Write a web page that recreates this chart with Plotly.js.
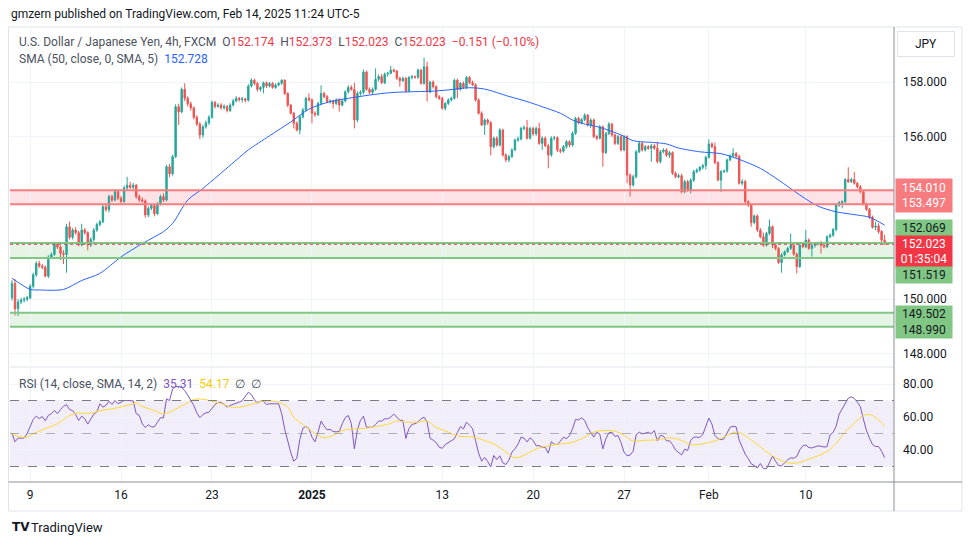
<!DOCTYPE html>
<html>
<head>
<meta charset="utf-8">
<script src="https://cdn.plot.ly/plotly-3.0.1.min.js"></script>
<style>
  html, body { margin: 0; padding: 0; background: #fff; }
  #chart { width: 970px; height: 545px; }
</style>
</head>
<body>
<div id="chart"></div>
<script>
// USD/JPY 4h bars, Dec 6 2024 .. Feb 14 2025
const barOpen = [
  150.05,150.58,149.65,149.90,149.97,150.00,150.05,150.48,150.90,151.32,
  151.22,151.18,150.85,151.55,151.65,152.06,151.92,151.69,151.65,152.67,
  152.28,152.55,152.45,152.00,152.55,152.45,152.00,152.20,152.55,152.75,
  152.85,153.41,153.30,153.78,153.65,153.96,153.72,153.60,154.10,154.20,
  154.12,154.20,153.78,153.66,153.62,153.10,153.35,153.45,153.15,153.50,
  153.78,153.65,154.88,154.62,155.25,157.09,156.90,157.73,157.40,157.20,
  157.05,156.70,156.45,156.05,156.35,156.50,156.70,157.25,157.10,157.15,
  157.05,157.10,156.95,157.15,157.30,157.40,157.35,157.38,157.33,157.85,
  158.07,157.95,157.73,157.80,157.97,157.85,157.95,157.80,157.89,157.95,
  158.07,157.58,157.15,156.85,156.48,156.23,156.72,156.97,157.40,157.34,
  156.85,156.80,157.21,157.58,157.46,157.28,157.30,157.21,157.34,157.15,
  157.30,157.64,157.80,157.73,156.60,157.58,157.62,158.37,157.73,157.62,
  157.73,158.10,158.20,157.97,158.29,158.32,158.44,158.40,158.14,158.05,
  158.14,157.67,158.17,158.20,158.18,158.44,157.95,158.56,157.64,158.00,
  157.83,157.46,157.40,157.03,157.21,157.34,157.40,158.07,157.73,157.95,
  157.80,158.17,157.98,157.90,157.34,156.85,156.42,156.60,156.50,155.62,
  155.93,155.68,156.23,155.31,155.13,155.25,155.50,155.86,155.90,156.29,
  156.32,155.93,156.29,156.09,156.29,155.74,155.93,155.65,155.31,155.93,
  155.95,155.50,155.45,155.62,155.80,155.68,156.11,156.66,156.50,156.62,
  156.78,156.42,156.60,155.99,155.93,156.35,155.40,156.10,156.45,156.05,
  155.74,155.99,155.50,155.99,154.57,154.21,154.51,155.43,155.74,155.50,
  155.62,155.56,155.65,155.56,155.07,155.43,155.50,155.30,155.40,154.64,
  154.51,154.55,153.96,154.33,154.02,154.39,154.70,154.76,154.86,154.92,
  155.23,155.72,155.62,155.03,154.39,154.70,154.72,155.13,155.28,155.37,
  155.26,154.27,154.33,153.59,153.47,152.82,153.07,152.55,152.30,151.99,
  152.42,152.67,152.00,151.87,151.35,151.63,151.75,151.87,151.99,151.66,
  151.20,151.99,151.93,152.18,151.87,151.99,152.03,152.06,151.99,151.93,
  152.30,152.36,152.57,153.47,153.56,153.59,154.41,154.33,154.41,154.27,
  154.14,153.96,153.51,153.31,153.02,152.65,152.70,152.49,152.174
];
const barHigh = [
  150.70,150.75,150.00,150.05,150.08,150.12,150.55,150.98,151.40,151.42,
  151.30,151.25,151.62,151.72,152.12,152.10,151.98,151.80,152.78,152.86,
  152.62,152.65,152.52,152.78,152.62,152.50,152.28,152.62,152.82,152.92,
  153.48,153.52,153.85,153.85,154.05,154.02,153.80,154.18,154.51,154.32,
  154.28,154.25,153.85,153.75,153.68,153.42,153.52,153.50,153.58,153.85,
  153.90,154.95,154.98,155.32,157.18,157.20,157.80,157.95,157.48,157.28,
  157.10,156.78,156.52,156.42,156.58,156.78,157.32,157.30,157.22,157.22,
  157.18,157.15,157.22,157.38,157.48,157.45,157.45,157.42,157.92,158.14,
  158.12,158.00,157.85,158.02,158.02,158.00,158.00,157.95,158.00,158.10,
  158.10,157.62,157.20,156.90,156.55,156.78,157.05,157.46,157.58,157.40,
  156.92,157.28,157.88,157.64,157.52,157.36,157.35,157.40,157.40,157.36,
  157.70,157.88,157.88,157.97,157.66,157.70,158.46,158.42,157.80,157.80,
  158.50,158.28,158.30,158.35,158.38,158.60,158.50,158.45,158.20,158.20,
  158.18,158.22,158.26,158.24,158.50,158.48,158.90,158.75,158.05,158.06,
  157.88,157.52,157.45,157.26,157.40,157.46,158.12,158.12,158.00,158.02,
  158.22,158.22,158.05,157.95,157.40,156.92,156.66,156.66,156.56,155.99,
  156.00,156.30,156.28,155.38,155.32,155.56,155.92,155.99,156.35,156.40,
  156.60,156.35,156.35,156.36,156.50,156.00,156.00,155.72,156.00,156.02,
  156.00,155.56,155.68,155.86,155.86,156.18,156.72,156.72,156.68,156.85,
  156.82,156.66,156.66,156.05,156.42,156.40,156.16,156.52,156.50,156.10,
  156.05,156.05,156.05,156.04,154.64,154.58,155.50,155.80,155.80,155.68,
  155.68,155.72,155.72,155.80,155.50,155.56,155.56,155.46,155.45,154.70,
  154.62,154.62,154.40,154.40,154.45,154.76,154.82,154.90,154.98,155.28,
  155.89,155.78,155.77,155.08,154.76,154.78,155.18,155.34,155.56,155.42,
  155.32,154.42,154.40,153.64,153.52,153.12,153.12,152.62,152.45,152.48,
  152.94,152.72,152.06,151.92,151.70,151.80,151.92,152.42,152.04,151.72,
  152.05,152.04,152.55,152.24,152.05,152.08,152.12,152.15,152.04,152.35,
  152.42,152.62,153.52,153.62,153.64,154.46,154.86,154.48,154.70,154.32,
  154.20,154.02,153.56,153.36,153.08,152.85,152.80,152.55,152.373
];
const barLow = [
  149.95,149.40,149.38,149.82,149.88,149.92,150.00,150.40,150.82,151.15,
  151.10,150.80,150.78,151.48,151.60,151.85,151.45,151.30,150.98,152.20,
  152.20,152.38,151.95,151.95,152.38,151.80,151.92,152.12,152.48,152.68,
  152.80,153.22,153.20,153.58,153.60,153.65,153.50,153.55,154.02,154.05,
  154.05,153.70,153.58,153.55,153.00,153.02,153.28,153.05,153.10,153.45,
  153.58,153.60,154.50,154.55,155.20,156.42,156.85,157.30,157.10,156.95,
  156.62,156.38,155.90,155.95,156.28,156.42,156.65,157.02,157.05,156.98,
  156.98,156.88,156.90,157.10,157.25,157.28,157.25,157.25,157.28,157.80,
  157.88,157.65,157.65,157.58,157.78,157.80,157.75,157.75,157.84,157.90,
  157.52,157.08,156.80,156.29,156.18,156.07,156.65,156.92,157.28,156.48,
  156.72,156.75,157.15,157.40,157.22,157.20,157.03,157.15,156.91,157.10,
  157.25,157.58,157.68,156.29,156.52,157.50,157.55,157.68,157.55,157.55,
  157.68,158.02,157.92,157.92,158.20,158.28,158.35,158.08,157.83,158.00,
  157.60,157.62,158.10,158.12,158.12,157.90,157.90,157.28,157.58,157.76,
  157.40,157.34,156.98,156.95,157.15,157.28,157.35,157.40,157.68,157.75,
  157.75,157.92,157.85,157.28,156.80,156.38,156.05,156.42,155.30,155.55,
  155.62,155.62,155.25,155.05,155.05,155.20,155.45,155.80,155.85,156.22,
  155.88,155.88,156.02,156.02,155.68,155.50,155.60,154.82,155.25,155.85,
  155.42,155.38,155.40,155.55,155.60,155.62,156.05,156.44,156.44,156.55,
  156.36,156.30,155.94,155.86,155.88,154.88,155.35,156.05,155.98,155.68,
  155.68,155.44,155.45,154.27,153.78,154.15,154.45,155.38,155.44,155.44,
  155.50,155.06,155.50,155.00,155.00,155.38,155.24,155.20,154.58,154.45,
  154.45,153.90,153.90,153.96,153.90,154.32,154.64,154.70,154.78,154.78,
  155.18,155.56,154.98,154.34,153.96,154.65,154.66,155.08,155.22,155.20,
  154.22,154.20,153.54,153.40,152.67,152.76,152.48,152.24,151.93,151.94,
  152.36,151.88,151.80,151.30,150.98,151.58,151.70,151.82,151.60,150.95,
  151.15,151.88,151.88,151.82,151.57,151.90,151.98,151.68,151.88,151.88,
  152.25,152.30,152.50,153.40,153.35,153.54,154.28,154.28,154.22,154.08,
  153.90,153.46,153.25,152.96,152.60,152.55,152.42,152.12,152.023
];
const barClose = [
  150.58,149.65,149.90,149.97,150.00,150.05,150.48,150.90,151.32,151.22,
  151.18,150.85,151.55,151.65,152.06,151.92,151.69,151.65,152.67,152.28,
  152.55,152.45,152.00,152.55,152.45,152.00,152.20,152.55,152.75,152.85,
  153.41,153.30,153.78,153.65,153.96,153.72,153.60,154.10,154.20,154.12,
  154.20,153.78,153.66,153.62,153.10,153.35,153.45,153.15,153.50,153.78,
  153.65,154.88,154.62,155.25,157.09,156.90,157.73,157.40,157.20,157.05,
  156.70,156.45,156.05,156.35,156.50,156.70,157.25,157.10,157.15,157.05,
  157.10,156.95,157.15,157.30,157.40,157.35,157.38,157.33,157.85,158.07,
  157.95,157.73,157.80,157.97,157.85,157.95,157.80,157.89,157.95,158.07,
  157.58,157.15,156.85,156.48,156.23,156.72,156.97,157.40,157.34,156.85,
  156.80,157.21,157.58,157.46,157.28,157.30,157.21,157.34,157.15,157.30,
  157.64,157.80,157.73,156.60,157.58,157.62,158.37,157.73,157.62,157.73,
  158.10,158.20,157.97,158.29,158.32,158.44,158.40,158.14,158.05,158.14,
  157.67,158.17,158.20,158.18,158.44,157.95,158.56,157.64,158.00,157.83,
  157.46,157.40,157.03,157.21,157.34,157.40,158.07,157.73,157.95,157.80,
  158.17,157.98,157.90,157.34,156.85,156.42,156.60,156.50,155.62,155.93,
  155.68,156.23,155.31,155.13,155.25,155.50,155.86,155.90,156.29,156.32,
  155.93,156.29,156.09,156.29,155.74,155.93,155.65,155.31,155.93,155.95,
  155.50,155.45,155.62,155.80,155.68,156.11,156.66,156.50,156.62,156.78,
  156.42,156.60,155.99,155.93,156.35,155.40,156.10,156.45,156.05,155.74,
  155.99,155.50,155.99,154.57,154.21,154.51,155.43,155.74,155.50,155.62,
  155.56,155.65,155.56,155.07,155.43,155.50,155.30,155.40,154.64,154.51,
  154.55,153.96,154.33,154.02,154.39,154.70,154.76,154.86,154.92,155.23,
  155.72,155.62,155.03,154.39,154.70,154.72,155.13,155.28,155.37,155.26,
  154.27,154.33,153.59,153.47,152.82,153.07,152.55,152.30,151.99,152.42,
  152.67,152.00,151.87,151.35,151.63,151.75,151.87,151.99,151.66,151.20,
  151.99,151.93,152.18,151.87,151.99,152.03,152.06,151.99,151.93,152.30,
  152.36,152.57,153.47,153.56,153.59,154.41,154.33,154.41,154.27,154.14,
  153.96,153.51,153.31,153.02,152.65,152.70,152.49,152.174,152.023
];

// SMA(50) sampled at bar positions
const smaIdx = [0,3,6,9,17,23,29,36,43,50,53,58,63,68,75,78,85,92,98,105,111,118,125,131,138,
  144,151,156,164,170,175,181,185,188,194,201,205,212,216,220,227,234,240,247,253,260,266,272,279,283,288];
const smaVal = [150.77,150.55,150.36,150.34,150.36,150.69,150.95,151.56,152.05,152.49,152.79,153.65,
  154.08,154.55,155.22,155.50,156.02,156.53,157.00,157.28,157.40,157.52,157.61,157.64,157.66,157.71,
  157.79,157.74,157.47,157.28,157.09,156.85,156.60,156.48,156.33,156.05,155.84,155.77,155.72,155.57,
  155.43,155.36,155.15,154.82,154.39,153.84,153.43,153.22,153.10,153.02,152.73];

// RSI(14), one value per bar
const rsi = [
  50,45,47.2,47,47.2,50,54.4,58.5,60.5,59,
  60.3,57.7,61,62,64,62,64.5,66.5,67.5,64.5,
  63.9,61.5,57.9,60.5,59,55.7,58.7,61.8,63,68,
  66,67,69.5,67.6,70,68,69,70,70,70,
  69.8,62,61,55.9,53.6,55.3,54,54,56.5,59.5,
  59.5,71,70,77,78.5,78.5,77.9,76,73.2,70.5,
  67,62.5,59.6,61.5,62.5,62.9,65.4,67.5,69,68.8,
  67.6,66,67,67.6,68.4,69,70,72.5,75,73.6,
  70.5,68.4,69.6,69.6,67.6,68,67.8,68,68,62,
  52.6,45.4,38.5,33.2,35,46.4,53.2,54.3,53,47.8,
  45,50.6,57.5,54.6,52.2,52.5,51.2,51,51.2,55.9,
  59.7,60.9,56,40.7,52.2,58,60.5,53.8,53.8,53.8,
  55.5,57.5,57.5,58.9,58.9,60,61.8,60,58,58,
  47,53,55.5,55.9,57,58.9,59.9,57,47,46,
  44.5,41.7,41,43.3,44.5,45.5,46.8,50.6,54.2,52.8,
  56.9,55,53,45.6,38.1,33.2,35.5,33,29.8,36.7,
  34.2,36.5,32.2,31.2,33.8,38.7,40.7,43.5,47.8,47.2,
  44.9,47.4,45.8,42.5,42.7,41.7,41.5,38.1,45,43.5,
  43.3,45.4,47.8,46.8,48.8,52.8,58.5,58.2,59.5,57.9,
  53.6,50.6,47.8,50.8,49.6,40.7,46.8,50.4,50.8,48.2,
  48.8,44.5,38.7,36.5,36.9,39.3,49.2,50.8,49.8,50.2,
  50.8,49.8,51.8,45.5,48.8,48.5,45.5,45.6,43.3,40,
  38.3,37,40.5,39.7,45.8,47.8,47.8,47.6,49.4,54.2,
  59.3,55.7,48.8,46.8,46.2,46.8,50.4,53.8,54.4,54,
  46,41.7,37.5,34.8,31.6,30.6,29,31.8,28.8,28.6,
  32.6,36.3,33.2,30.6,30.4,32.4,34,35.3,35,36.1,
  40.1,42.5,43,41.5,41.2,41.9,42.5,42.3,41.8,42,
  49.2,50.6,54.4,61.7,64.9,67.4,71.4,72.2,71.2,69,
  66.2,58.7,51.8,47.2,43.3,42.1,42.1,39.3,35.31
];

// RSI-based SMA(14)
const rsiMaIdx = [0,3,5,7,10,15,19,22,26,29,33,38,41,43,47,50,53,57,60,63,66,70,72,75,79,82,86,88,91,93,
  96,98,101,103,106,109,113,117,120,124,127,130,134,137,140,144,147,152,156,160,163,166,170,173,177,181,185,
  189,192,195,199,202,205,208,213,217,221,224,228,233,236,239,241,245,248,251,254,257,260,263,266,269,272,
  275,278,281,283,285,287,288];
const rsiMaVal = [49.8,47.8,47.8,49.8,52.2,55.9,60.9,62.3,62.3,63.9,64.9,67.0,68.4,66.4,63.9,61.9,63.9,
  67.6,70.6,70.8,69.6,67.6,66.0,66.0,67.6,69.4,69.6,69.0,66.0,59.9,55.5,52.8,48.8,47.4,48.8,51.8,52.8,
  53.2,54.2,55.5,57.5,56.9,56.9,57.5,53.8,50.8,48.5,47.8,45.8,42.7,38.7,35.3,37.7,40.7,42.5,43.7,44.7,
  47.8,50.8,51.8,51.4,48.8,45.4,45.8,46.2,47.4,45.8,43.3,43.7,46.2,48.8,50.8,49.8,44.7,40.5,36.5,33.5,
  32.0,32.5,34.5,36.5,39.0,44.0,51.0,56.3,60.9,61.5,59.8,56.5,54.17];

// time axis labels (bar index of first bar of the day)
const tickIdx = [6, 36, 66, 99, 142, 172, 202, 230, 262];
const tickText = ["9", "16", "23", "<b>2025</b>", "13", "20", "27", "Feb", "10"];

// price scale labels (152 and 154 sit under the zone tags)
const priceTicks = [148, 150, 152, 154, 156, 158];
const priceTickText = ["148.000", "150.000", "", "", "156.000", "158.000"];

// horizontal zones drawn on the chart
const redZone = [153.497, 154.010];
const greenZones = [[151.519, 152.069], [148.990, 149.502]];
const lastPrice = 152.023;

// ---------- layout helpers ----------
const L = 10, R = 894, T = 28, B = 482;
const px = (x) => (x - L) / (R - L);
const py = (y) => (B - y) / (B - T);
const FONT = "Roboto, 'Noto Sans', sans-serif";
const TXT = "#131722";
const UP = "#26a69a", DOWN = "#ef5350";

const barIdx = barClose.map((_, i) => i);

const candles = {
  type: "candlestick",
  x: barIdx, open: barOpen, high: barHigh, low: barLow, close: barClose,
  increasing: { line: { color: UP, width: 1 }, fillcolor: UP },
  decreasing: { line: { color: DOWN, width: 1 }, fillcolor: DOWN },
  whiskerwidth: 0,
  xaxis: "x", yaxis: "y",
  hoverinfo: "skip",
};

const sma = {
  type: "scatter", mode: "lines",
  x: smaIdx, y: smaVal,
  line: { color: "#2962ff", width: 1, shape: "spline", smoothing: 0.8 },
  xaxis: "x", yaxis: "y",
};

const rsiLine = {
  type: "scatter", mode: "lines",
  x: barIdx, y: rsi,
  line: { color: "#7e57c2", width: 1 },
  xaxis: "x", yaxis: "y2",
};

const rsiMa = {
  type: "scatter", mode: "lines",
  x: rsiMaIdx, y: rsiMaVal,
  line: { color: "#fdd835", width: 1, shape: "spline", smoothing: 1 },
  xaxis: "x", yaxis: "y2",
};

const hline = (y, color, width, dash, yref, layer) => ({
  type: "line", xref: "paper", x0: 0, x1: 1, yref: yref || "y", y0: y, y1: y,
  line: { color, width, dash: dash || "solid" }, layer: layer || "above",
});
const band = (y0, y1, fill, yref) => ({
  type: "rect", xref: "paper", x0: 0, x1: 1, yref: yref || "y", y0, y1,
  fillcolor: fill, line: { width: 0 }, layer: "below",
});

const shapes = [
  // outer frame
  { type: "rect", xref: "paper", yref: "paper", x0: px(8.5), x1: px(962), y0: py(27), y1: py(511),
    line: { color: "#e0e3eb", width: 1 }, layer: "below" },
  band(redZone[0], redZone[1], "rgba(242,54,69,0.14)"),
  hline(redZone[0], "#f77c80", 2), hline(redZone[1], "#f77c80", 2),
];
greenZones.forEach(([a, b]) => {
  shapes.push(band(a, b, "rgba(76,175,80,0.14)"));
  shapes.push(hline(a, "#81c784", 2), hline(b, "#81c784", 2));
});
shapes.push(hline(lastPrice, "#f23645", 1, "dot"));
// RSI band and levels
shapes.push(band(30, 70, "rgba(126,87,194,0.10)", "y2"));
shapes.push(hline(70, "#787b86", 1, "dash", "y2"), hline(30, "#787b86", 1, "dash", "y2"));
shapes.push(hline(50, "rgba(120,123,134,0.55)", 1, "dash", "y2"));
// pane separator, scale lines
shapes.push({ type: "line", xref: "paper", yref: "paper", x0: 0, x1: 1, y0: py(367), y1: py(367),
  line: { color: "#e0e3eb", width: 1 } });
shapes.push({ type: "line", xref: "paper", yref: "paper", x0: 1, x1: 1, y0: py(27), y1: py(511),
  line: { color: "#8c8f99", width: 1 } });
shapes.push({ type: "line", xref: "paper", yref: "paper", x0: px(8.5), x1: px(962), y0: 0, y1: 0,
  line: { color: "#8c8f99", width: 1 } });

const sp = (c, t) => `<span style="color:${c}">${t}</span>`;
const NB = "\u00a0";
const RED = "#f23645";

const text = (x, y, t, size, color, extra) => Object.assign({
  xref: "paper", yref: "paper", x: px(x), y: py(y), text: t,
  xanchor: "left", yanchor: "middle", showarrow: false,
  font: { family: FONT, size: size || 12, color: color || TXT },
}, extra || {});

const tag = (price, t, bg, fg, shift, h) => ({
  xref: "paper", yref: "y", x: 1, y: price, xanchor: "left", yanchor: "middle",
  xshift: 1, yshift: shift, text: t, showarrow: false, align: "center",
  bgcolor: bg, borderpad: 1, width: 54, height: h || 14,
  font: { family: FONT, size: 12, color: fg },
});

const annotations = [
  text(9, 14, "gmzern published on TradingView.com, Feb 14, 2025 11:24 UTC-5", 12, TXT),
  text(17, 42,
    sp("#4c525e", "U.S. Dollar / Japanese Yen, 4h, FXCM") + NB + NB +
    sp("#4c525e", "O") + sp(RED, "152.174") + NB + NB + sp("#4c525e", "H") + sp(RED, "152.373") + NB + NB +
    sp("#4c525e", "L") + sp(RED, "152.023") + NB + NB + sp("#4c525e", "C") + sp(RED, "152.023") + NB + NB +
    sp(RED, "\u22120.151 (\u22120.10%)"), 12, "#4c525e"),
  text(17, 59, sp("#4c525e", "SMA (50, close, 0, SMA, 5)") + NB + NB + sp("#2962ff", "152.728"), 12, "#4c525e"),
  text(17, 384, sp("#4c525e", "RSI (14, close, SMA, 14, 2)") + NB + NB + sp("#7e57c2", "35.31") + NB + NB +
    sp("#f2cc00", "54.17") + NB + NB + sp("#4c525e", "\u2205" + NB + NB + "\u2205"), 12, "#4c525e"),
  // currency box
  text(926, 44, "JPY", 12, TXT, { xanchor: "center", bordercolor: "#e0e3eb", borderwidth: 1,
    borderpad: 5, width: 46, height: 14, bgcolor: "#ffffff" }),
  // scale tags (the two red-zone prices share one box)
  tag((redZone[0] + redZone[1]) / 2, "154.010<br>153.497", "#f77c80", "#ffffff", 1.5, 31),
  tag(152.069, "152.069", "#81c784", TXT, 15.5, 14),
  tag(lastPrice, "152.023<br>01:35:04", "#f23645", "#ffffff", -7, 29),
  tag(151.519, "151.519", "#81c784", TXT, -17.5, 14),
  tag(149.502, "149.502", "#81c784", TXT, -1, 14),
  tag(148.990, "148.990", "#81c784", TXT, -3.5, 14),
  // footer logo
  text(10, 527, "<b>TV</b>", 12, "#131722", { font: { family: "DejaVu Sans", size: 12, color: "#131722" } }),
  text(29, 527, "TradingView", 13, "#131722"),
];

const layout = {
  width: 970, height: 545,
  margin: { l: L, r: 970 - R, t: T, b: 545 - B, pad: 0 },
  paper_bgcolor: "#ffffff", plot_bgcolor: "#ffffff",
  font: { family: FONT, size: 12, color: TXT },
  showlegend: false, hovermode: false, dragmode: false,
  boxgap: 0.35,
  xaxis: {
    anchor: "y2", range: [-0.66, 291.1],
    tickmode: "array", tickvals: tickIdx, ticktext: tickText,
    showgrid: true, gridcolor: "#f0f3fa", gridwidth: 1,
    zeroline: false, showline: false, ticks: "",
    tickfont: { family: FONT, size: 12, color: TXT },
    ticklabelstandoff: 4,
    rangeslider: { visible: false },
  },
  yaxis: {
    domain: [py(366), 1], range: [147.54, 159.99],
    side: "right", anchor: "x",
    tickmode: "array", tickvals: priceTicks, ticktext: priceTickText,
    showgrid: true, gridcolor: "#f0f3fa", zeroline: false, showline: false, ticks: "",
    tickfont: { family: FONT, size: 12, color: TXT },
    ticklabelstandoff: 8,
  },
  yaxis2: {
    domain: [0, py(368)], range: [20.6, 89.7],
    side: "right", anchor: "x", tickvals: [40, 60, 80], tickformat: ".2f",
    showgrid: true, gridcolor: "#f0f3fa", zeroline: false, showline: false, ticks: "",
    tickfont: { family: FONT, size: 12, color: TXT },
    ticklabelstandoff: 8,
  },
  shapes, annotations,
};

Plotly.newPlot("chart", [candles, sma, rsiLine, rsiMa], layout, { staticPlot: true });
</script>
</body>
</html>
